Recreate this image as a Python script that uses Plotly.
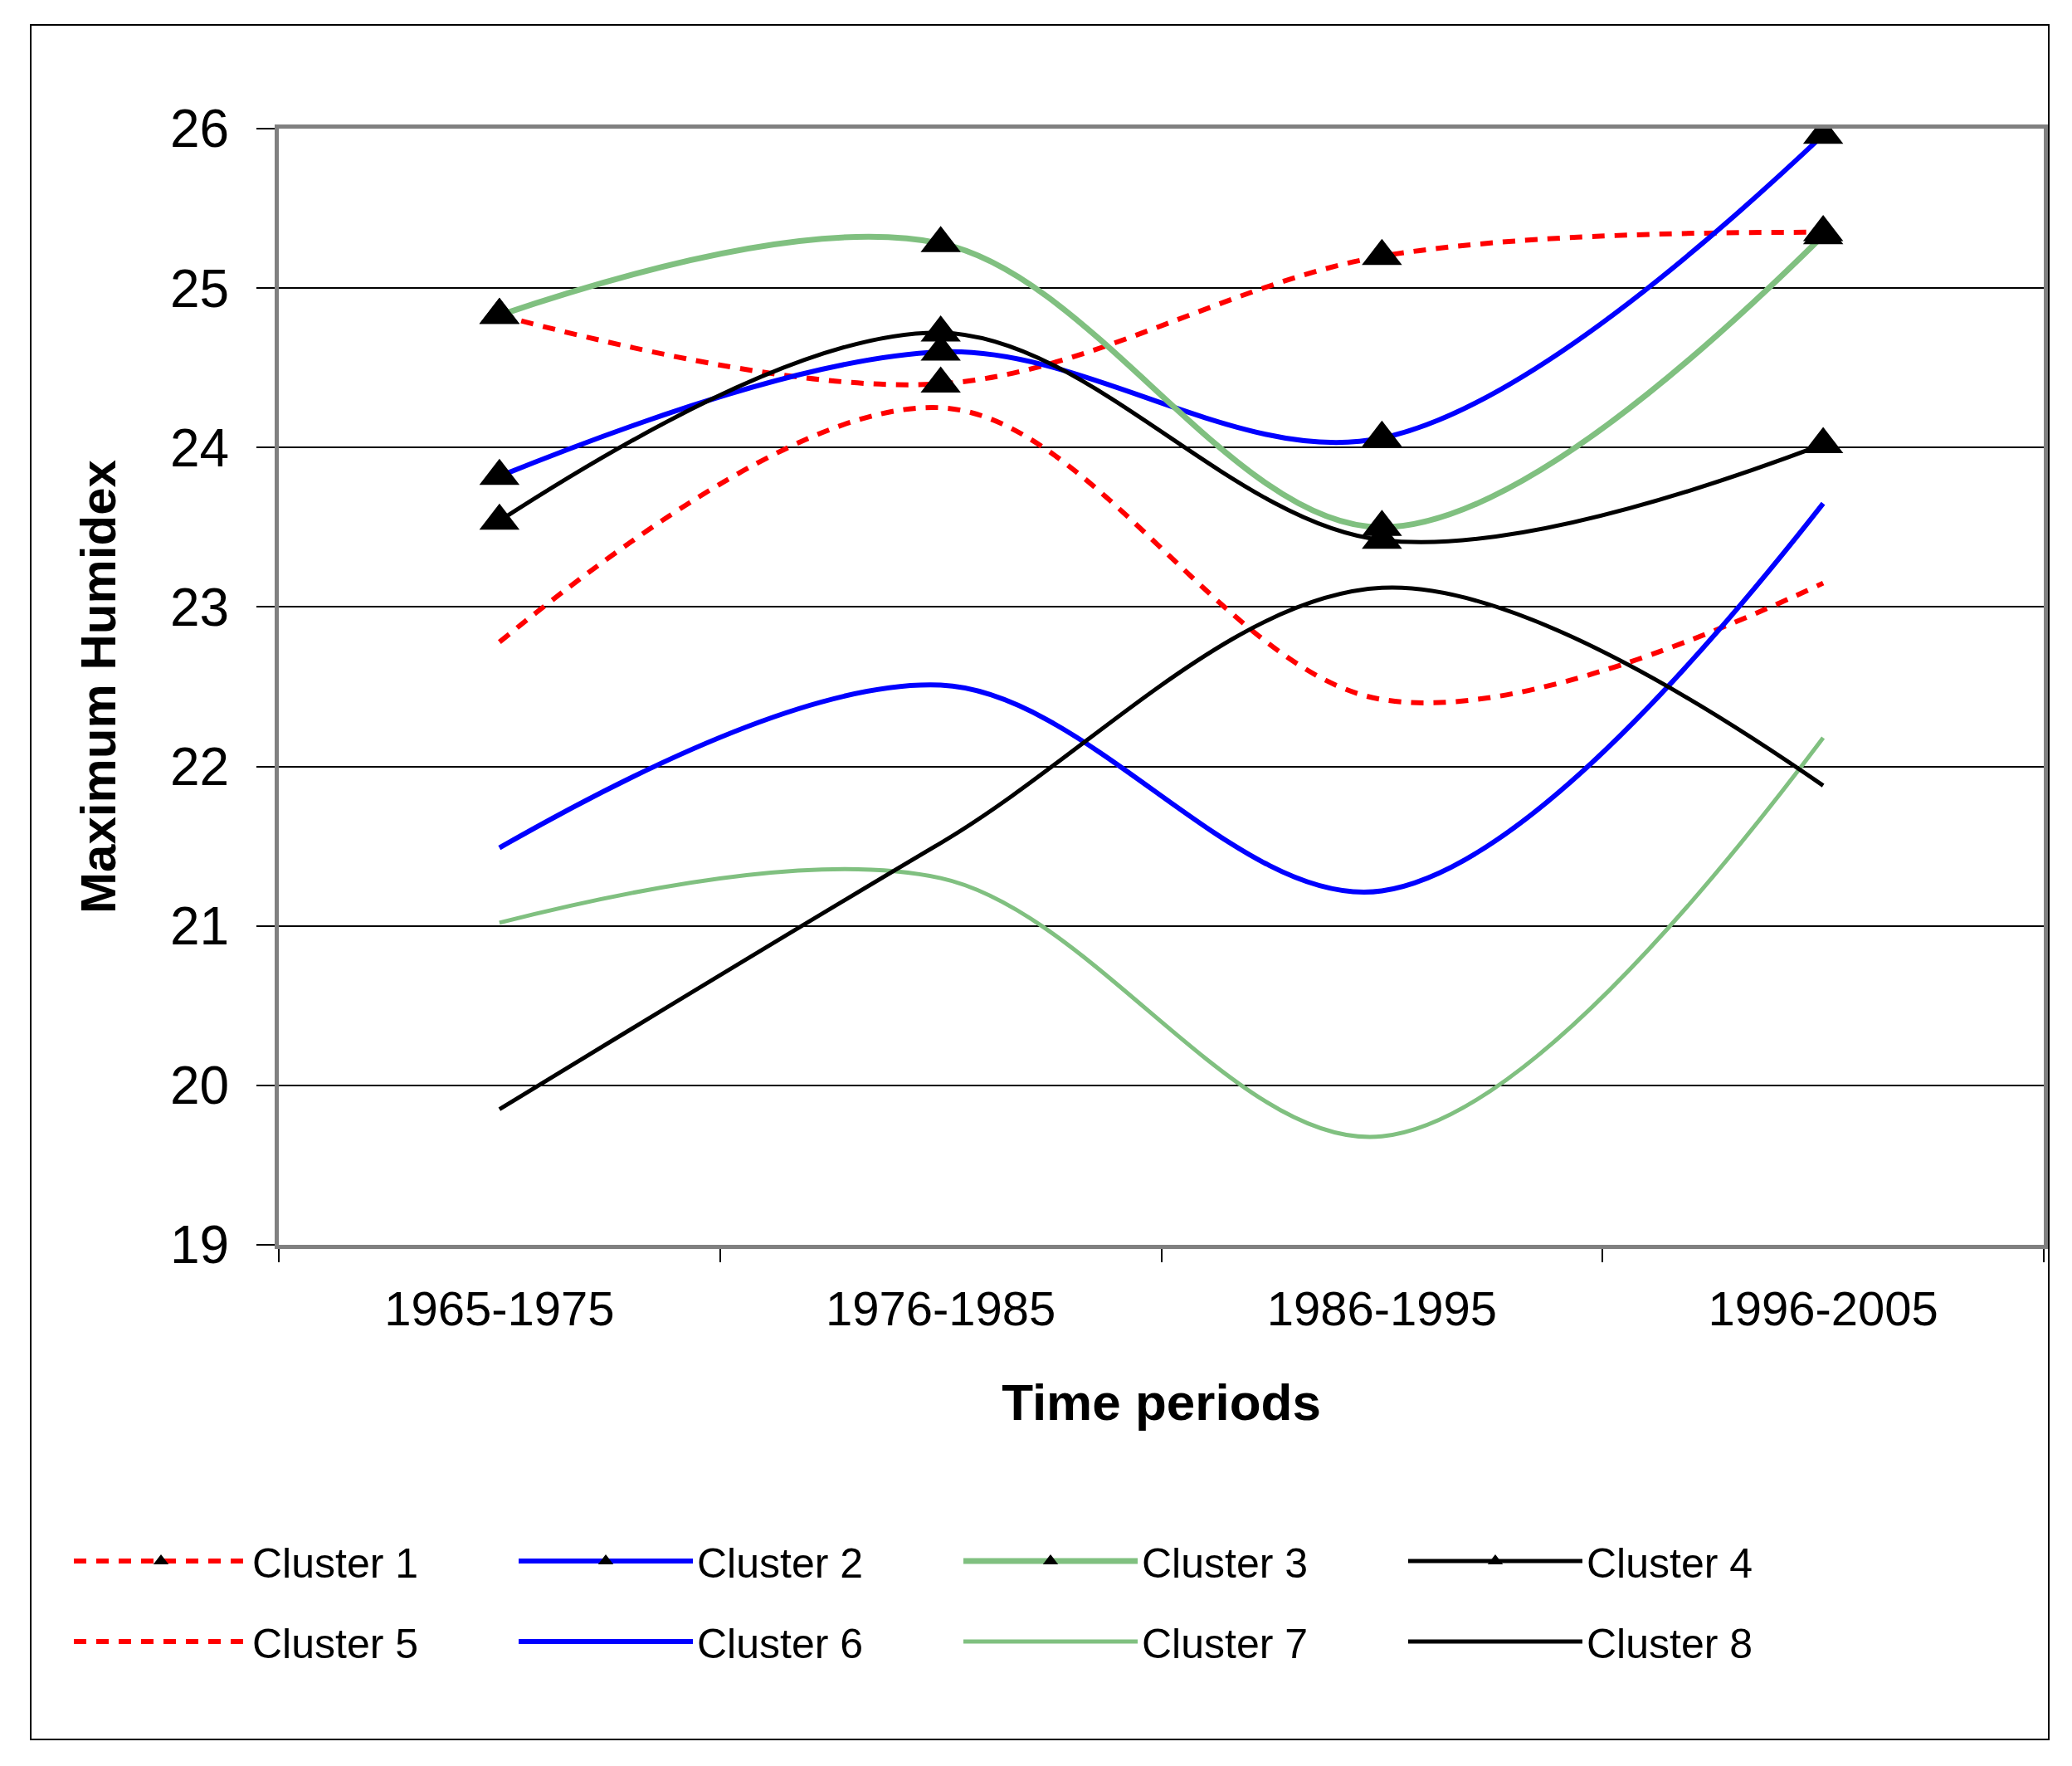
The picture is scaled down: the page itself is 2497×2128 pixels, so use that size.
import plotly.graph_objects as go

periods = ["1965-1975", "1976-1985", "1986-1995", "1996-2005"]

cluster1 = [24.83, 24.40, 25.20, 25.35]
cluster2 = [23.82, 24.60, 24.06, 25.96]
cluster3 = [24.83, 25.28, 23.50, 25.33]
cluster4 = [23.54, 24.72, 23.42, 24.02]
cluster5 = [22.78, 24.25, 22.42, 23.15]
cluster6 = [21.49, 22.51, 21.22, 23.65]
cluster7 = [21.02, 21.30, 19.68, 22.18]
cluster8 = [19.85, 21.52, 23.12, 21.88]

W, H = 2497, 2128
ML, MR, MT, MB = 328, 42, 147, 636

RED = "#FF0000"
BLUE = "#0000FF"
GREEN = "#80C080"
BLACK = "#000000"
RED_DASH = "15px,12px"

# name, values, colour, width, dash, markers, legend
styles = [
    ("Cluster 1", cluster1, RED, 6, RED_DASH, True, "legend"),
    ("Cluster 2", cluster2, BLUE, 6, "solid", True, "legend"),
    ("Cluster 3", cluster3, GREEN, 7, "solid", True, "legend"),
    ("Cluster 4", cluster4, BLACK, 5, "solid", True, "legend"),
    ("Cluster 5", cluster5, RED, 6, RED_DASH, False, "legend2"),
    ("Cluster 6", cluster6, BLUE, 6, "solid", False, "legend2"),
    ("Cluster 7", cluster7, GREEN, 5, "solid", False, "legend2"),
    ("Cluster 8", cluster8, BLACK, 5, "solid", False, "legend2"),
]

fig = go.Figure()
for name, vals, col, lw, dash, mk, leg in styles:
    fig.add_trace(go.Scatter(
        x=periods, y=vals, name=name, legend=leg,
        mode="lines+markers" if mk else "lines",
        line=dict(color=col, width=lw, dash=dash, shape="spline", smoothing=1.0),
        marker=dict(symbol="triangle-up", size=42, color=BLACK),
    ))

pw = W - ML - MR
ph = H - MT - MB


def px_x(p):
    return (p - ML) / pw


def px_y(p):
    return (H - MB - p) / ph


font = "Liberation Sans, Arial, sans-serif"
legend_style = dict(orientation="h", xanchor="left", yanchor="middle",
                    entrywidth=311, entrywidthmode="pixels", itemwidth=210,
                    font=dict(size=50, family=font), bgcolor="rgba(0,0,0,0)")

fig.update_layout(
    width=W, height=H,
    margin=dict(l=ML, r=MR, t=MT, b=MB),
    paper_bgcolor="white", plot_bgcolor="white",
    font=dict(family=font, color="black"),
    legend=dict(x=px_x(76), y=px_y(1873), **legend_style),
    legend2=dict(x=px_x(76), y=px_y(1970), **legend_style),
    shapes=[dict(type="rect", xref="paper", yref="paper",
                 x0=px_x(29), x1=px_x(2461), y0=px_y(2088), y1=px_y(22),
                 line=dict(color="black", width=2), layer="below")],
)

fig.update_xaxes(
    type="category", range=[-0.5, 3.5],
    showgrid=False, showline=True, linecolor="#808080", linewidth=5, mirror=True,
    ticks="outside", tickson="boundaries", ticklen=16, tickcolor="black", tickwidth=2,
    tickfont=dict(size=58, family=font), ticklabelstandoff=22,
    title=dict(text="<b>Time periods</b>", font=dict(size=62, family=font), standoff=62),
)
fig.update_yaxes(
    range=[19, 26], dtick=1, tick0=19,
    showgrid=True, gridcolor="black", gridwidth=2, zeroline=False,
    showline=True, linecolor="#808080", linewidth=5, mirror=True,
    ticks="outside", ticklen=22, tickcolor="black", tickwidth=2,
    tickfont=dict(size=64, family=font), ticklabelstandoff=20,
    title=dict(text="<b>Maximum Humidex</b>", font=dict(size=60, family=font), standoff=48),
)

fig.write_html("out.html")
